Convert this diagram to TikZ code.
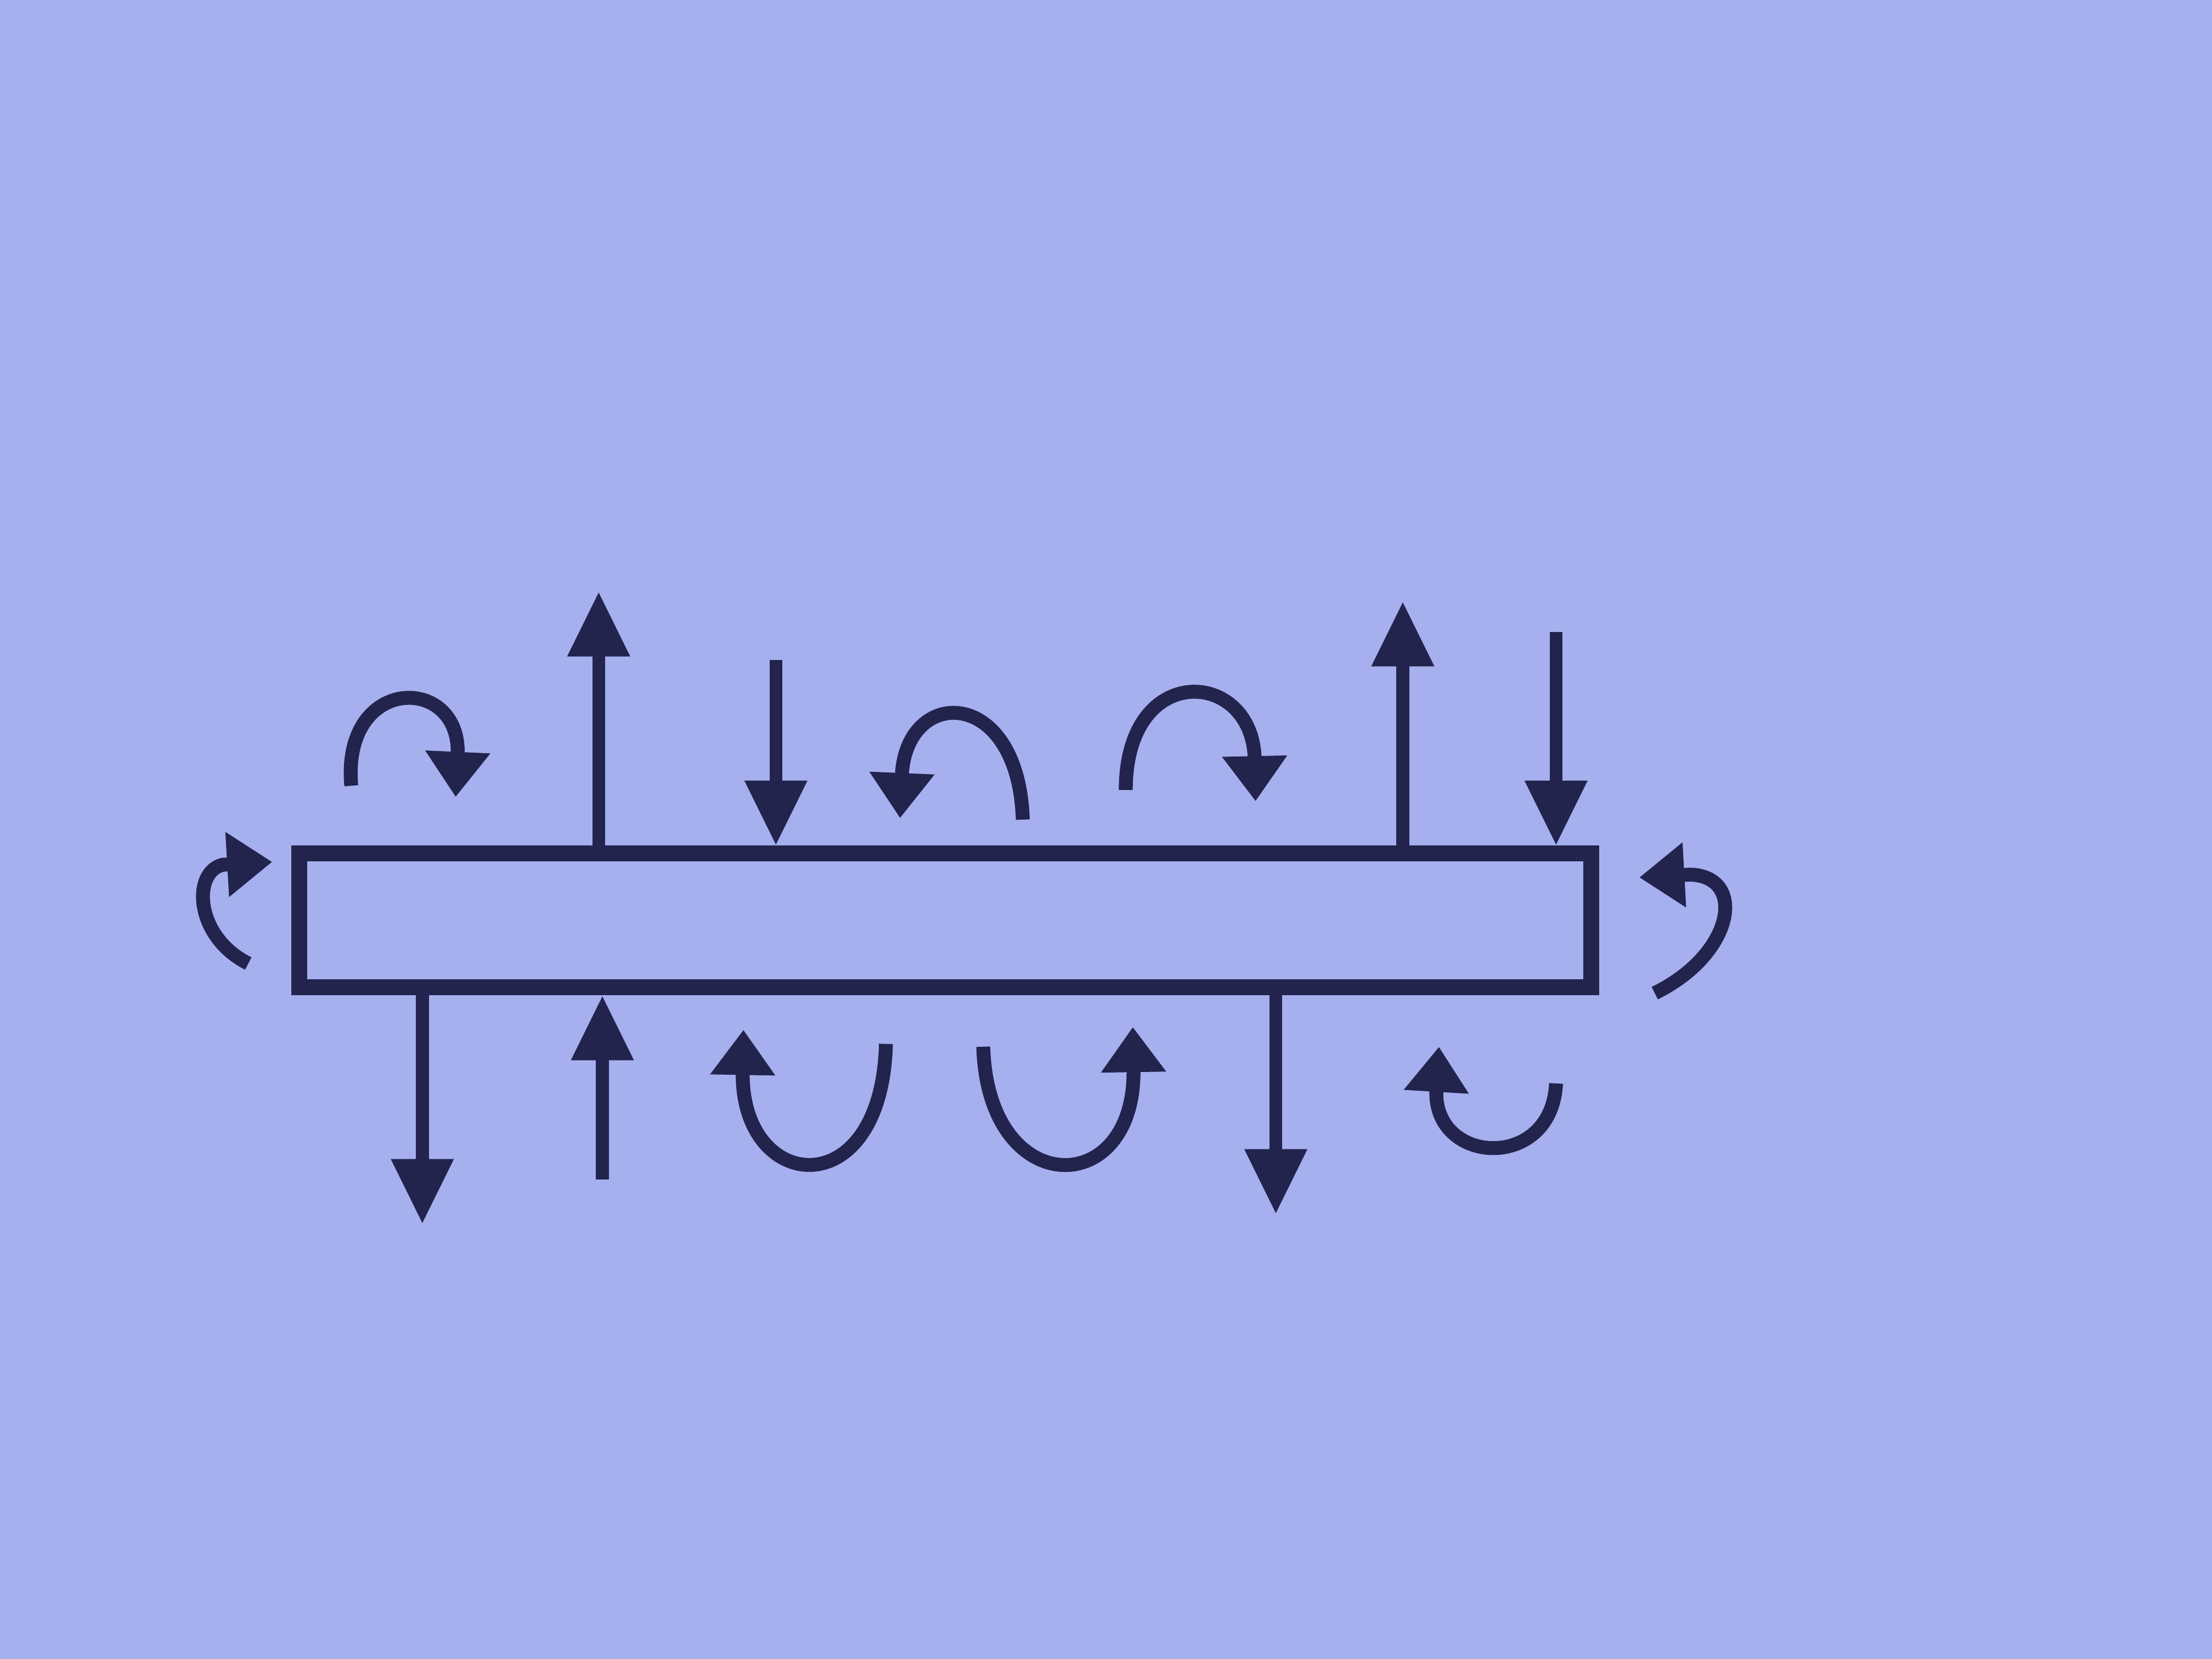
\documentclass[tikz,border=0pt]{standalone}
\usetikzlibrary{arrows.meta}
\definecolor{paper}{RGB}{166,176,238}
\definecolor{ink}{RGB}{34,36,78}
\begin{document}
\begin{tikzpicture}[
    force/.style={draw=ink, line width=2.6pt, -{Triangle[length=4.6mm,width=4.2mm]}},
    moment/.style={draw=ink, line width=2.8pt, -{Triangle[length=3.2mm,width=4.4mm]}}
  ]
    \fill[paper] (0,0) rectangle (15.68,11.76);
    \useasboundingbox (0,0) rectangle (15.68,11.76);
    % the beam
    \node[draw=ink, line width=3.2pt, minimum width=9.16cm, minimum height=0.95cm, inner sep=0pt] (beam) at (6.70,5.235) {};
    % forces on the upper side
    \draw[force] ([xshift=2.18cm]beam.north west) -- ++(0,1.80);
    \coordinate (top2) at (5.50,7.08);
    \draw[force] (top2) -- (top2 |- beam.north);
    \draw[force] ([xshift=7.88cm]beam.north west) -- ++(0,1.73);
    \coordinate (top4) at (11.03,7.28);
    \draw[force] (top4) -- (top4 |- beam.north);
    % forces on the lower side
    \draw[force] ([xshift=0.93cm]beam.south west) -- ++(0,-1.62);
    \coordinate (bot2) at (4.27,3.40);
    \draw[force] (bot2) -- (bot2 |- beam.south);
    \draw[force] ([xshift=6.98cm]beam.south west) -- ++(0,-1.55);
    % moments above
    \draw[moment] (2.49,6.19) .. controls (2.42,6.98) and (3.27,6.98) .. (3.23,6.11);
    \draw[moment] (7.25,5.95) .. controls (7.22,6.90) and (6.42,6.90) .. (6.38,5.96);
    \draw[moment] (7.98,6.16) .. controls (7.98,7.08) and (8.88,7.02) .. (8.90,6.08);
    % moments at the ends
    \draw[moment] (1.76,4.93) .. controls (1.38,5.12) and (1.36,5.58) .. (1.58,5.63) -- (1.93,5.65);
    \draw[moment] (11.73,4.72) .. controls (12.30,5.00) and (12.38,5.55) .. (11.98,5.56) -- (11.62,5.54);
    % moments below
    \draw[moment] (6.28,4.36) .. controls (6.25,3.20) and (5.25,3.30) .. (5.27,4.46);
    \draw[moment] (6.97,4.34) .. controls (7.00,3.25) and (8.05,3.25) .. (8.03,4.48);
    \draw[moment] (11.03,4.08) .. controls (11.00,3.45) and (10.15,3.50) .. (10.20,4.34);
  \end{tikzpicture}
\end{document}
